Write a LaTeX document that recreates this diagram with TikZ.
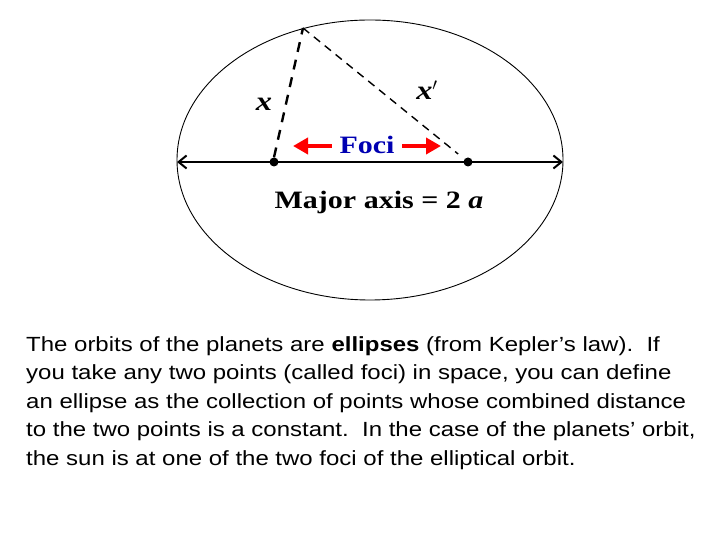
\documentclass[tikz,border=0pt]{standalone}
\usepackage{fontspec}
\setmainfont{Liberation Serif}
\newfontfamily\arialfont[FakeStretch=1.17]{Liberation Sans}
\newfontfamily\wideserif[FakeStretch=1.2]{Liberation Serif}
\usetikzlibrary{arrows.meta}

\begin{document}
\begin{tikzpicture}[
    x=1pt, y=1pt,
    focus/.style={circle, fill=black, inner sep=0pt, minimum size=9pt},
    dashA/.style={dashed, line width=2.4pt, dash pattern=on 10pt off 8pt},
    dashB/.style={dashed, line width=1.4pt, dash pattern=on 8pt off 6pt},
    redarrow/.style={red, line width=4.5pt, -{Triangle[length=15pt,width=16pt]}},
    lbl/.style={font=\wideserif\fontsize{27}{29}\selectfont\bfseries\itshape}
  ]
  \useasboundingbox (0,0) rectangle (720,540);

  %% ---- Orbit ----
  \draw[line width=0.9pt] (370,380) ellipse [x radius=193, y radius=140];

  % major axis with both ends
  \coordinate (axL) at (177,378);
  \coordinate (axR) at (563,378);
  \draw[line width=2pt, {Straight Barb[length=8pt,width=13pt]}-{Straight Barb[length=8pt,width=13pt]}] (axL) -- (axR);

  % the two foci
  \node[focus] (f1) at (274,378) {};
  \node[focus] (f2) at (468,378) {};

  % point on the orbit, distances x and x'
  \coordinate (pt) at (303,512);
  \draw[dashA] (f1.north) -- (pt);
  \draw[dashB, shorten >=8pt] (pt) -- (f2);
  \node[lbl] (xa) at (264,436) {x};
  \node[lbl] (xb) at (427,450) {x$'$};

  % Foci label and red arrows
  \node[font=\wideserif\fontsize{25}{27}\selectfont\bfseries, text=blue!70!black] (foci) at (367,395) {Foci};
  \coordinate (ra) at (293,394);
  \coordinate (rb) at (441,394);
  \draw[redarrow] (foci.west) ++(-4,-1) -- (ra);
  \draw[redarrow] (foci.east) ++(4,-1) -- (rb);

  \node[font=\wideserif\fontsize{25}{27}\selectfont\bfseries] (major) at (379,338) {Major axis = 2 \textit{a}};

  %% ---- Caption ----
  \node[anchor=north west, align=left, inner sep=0pt,
        font=\arialfont\fontsize{20.5}{28.5}\selectfont] (caption) at (26,204) {%
    The orbits of the planets are \textbf{ellipses} (from Kepler’s law).\ \ If\\
    you take any two points (called foci) in space, you can define\\
    an ellipse as the collection of points whose combined distance\\
    to the two points is a constant.\ \ In the case of the planets’ orbit,\\
    the sun is at one of the two foci of the elliptical orbit.};

\end{tikzpicture}
\end{document}
